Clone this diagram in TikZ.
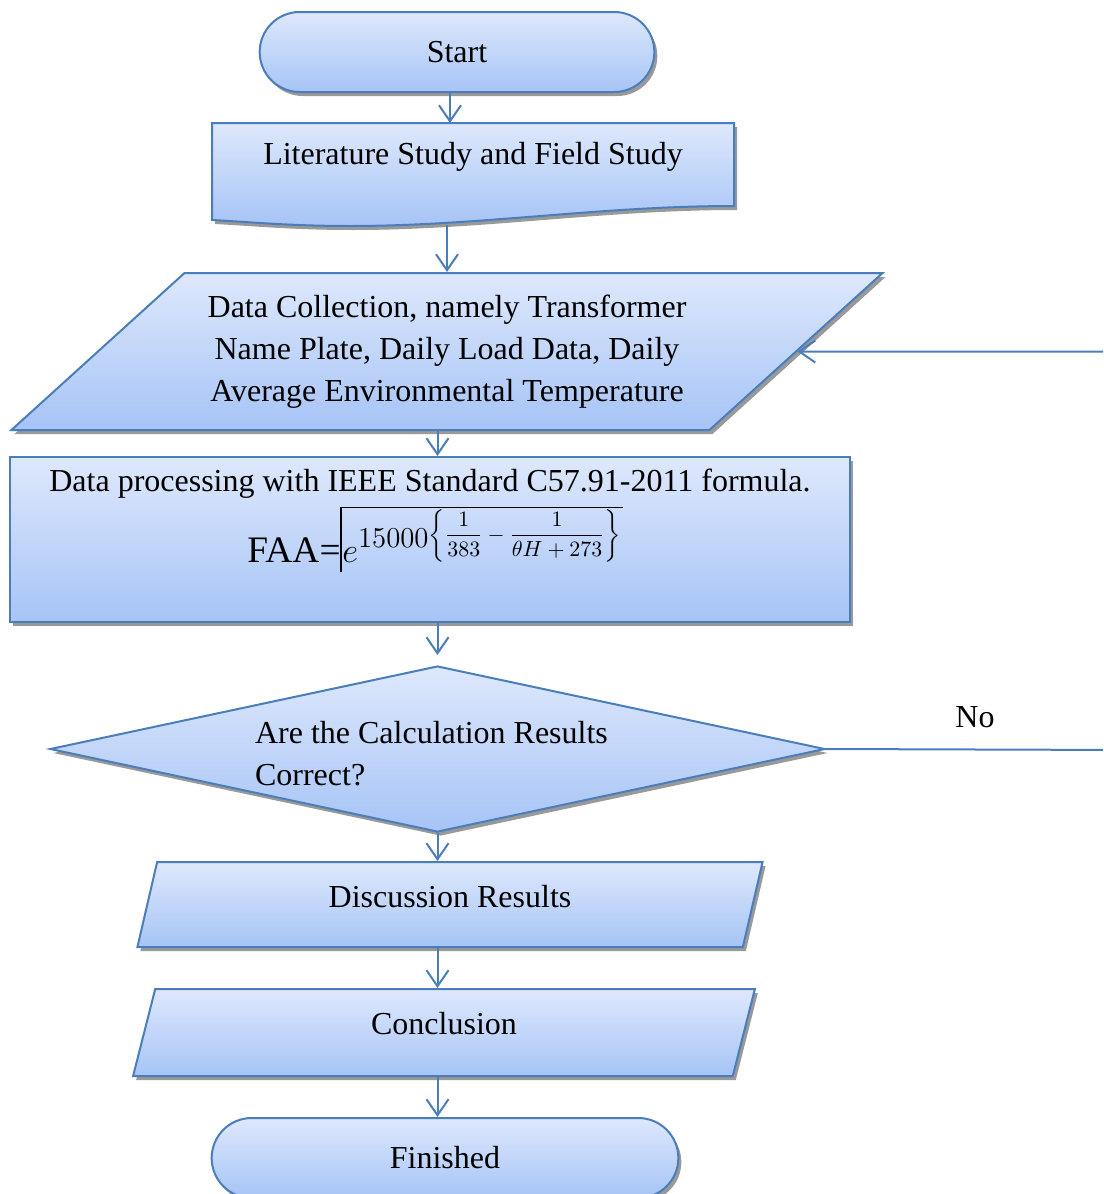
\documentclass[tikz,border=0pt]{standalone}
\usepackage{amsmath}
\usepackage{fontspec}
\setmainfont{Liberation Serif}
\usetikzlibrary{shapes.geometric, shapes.misc, shadows, arrows.meta, positioning, calc}

\definecolor{edgeblue}{RGB}{74,126,187}
\definecolor{filltop}{RGB}{222,232,252}
\definecolor{fillbot}{RGB}{166,196,246}

\tikzset{
  box/.style={draw=edgeblue, line width=1pt, top color=filltop, bottom color=fillbot,
    drop shadow={shadow xshift=1.5pt, shadow yshift=-2pt, fill=black!40, opacity=1}},
  terminal/.style={box, rounded rectangle, minimum width=#1, minimum height=40pt},
  iobox/.style={box, trapezium, trapezium stretches=true, align=center},
  flow/.style={draw=edgeblue, line width=1pt, -{Straight Barb[length=8pt, width=11pt]}}
}

\begin{document}
\begin{tikzpicture}[x=0.5pt, y=-0.5pt, font=\fontsize{16}{21}\selectfont]
  \useasboundingbox (0,0) rectangle (1103,1194);
  \clip (0,0) rectangle (1103,1194);

  % Start
  \node[terminal=204pt] (start) at (457,52) {Start};

  % Literature study (document shape)
  \path[box] (212,123) -- (734,123) -- (734,206)
    .. controls (600,206) and (480,226) .. (350,226)
    .. controls (290,226) and (250,222) .. (212,220) -- cycle;
  \node (lit) at (473,157) {Literature Study and Field Study};
  \coordinate (lit-t) at (450,123);
  \coordinate (lit-b) at (447,225);

  % Data collection
  \node[iobox, trapezium left angle=38, trapezium right angle=142,
    minimum width=437pt, minimum height=78.5pt] (data) at (447,351.5)
    {Data Collection, namely Transformer\\Name Plate, Daily Load Data, Daily\\Average Environmental Temperature};

  % Processing
  \node[box, rectangle, minimum width=420pt, minimum height=82.5pt] (proc) at (430,539.5) {};
  \node[inner sep=1pt] (proctxt) at (430,484) {Data processing with IEEE Standard C57.91-2011 formula.};
  \node[inner sep=0.5pt, text depth=4.5pt, anchor=base west, font=\fontsize{18.7}{22}\selectfont] (fexp) at (341,562)
    {$e$\raisebox{7.5pt}{\fontsize{14}{14}\selectfont$15000$}\raisebox{10.5pt}{\fontsize{10.5}{10.5}\selectfont$\left\{\dfrac{1}{383}-\dfrac{1}{\theta H+273}\right\}$}};
  \node[inner sep=0pt, anchor=base east, font=\fontsize{18.7}{22}\selectfont] (faa) at (fexp.base west) {FAA=};
  \draw[line width=0.6pt] (fexp.south west) |- (fexp.north east);

  % Decision
  \node[box, diamond, minimum width=387.5pt, minimum height=83pt, inner sep=0pt] (dia) at (437.5,749) {};
  \node[align=left, anchor=west] (ask) at (248,754) {Are the Calculation Results\\Correct?};
  \node (no) at (975,717) {No};
  \coordinate (ret) at (1130,750);

  % Results
  \node[iobox, trapezium left angle=80.5, trapezium right angle=99.5, text depth=8pt,
    minimum width=313pt, minimum height=42.5pt] (disc) at (450,904.5) {Discussion Results};
  \node[iobox, trapezium left angle=83.5, trapezium right angle=96.5, text depth=9pt,
    minimum width=313pt, minimum height=43.5pt] (conc) at (444,1032.5) {Conclusion};
  \node[terminal=240pt] (fin) at (445,1158) {Finished};

  % Connectors
  \draw[flow] (start.south -| lit-t) -- (lit-t);
  \draw[flow] (lit-b) -- (lit-b |- data.north);
  \draw[flow] (data.south -| dia.north) -- (proc.north -| dia.north);
  \draw[flow, shorten >=5pt] (proc.south -| dia.north) -- (dia.north);
  \draw[flow] (dia.south) -- (dia.south |- disc.north);
  \draw[flow] (disc.south -| dia.south) -- (conc.north -| dia.south);
  \draw[flow] (conc.south -| dia.south) -- (fin.north -| dia.south);
  \draw[flow] (dia.east) -- (ret) |- (data.east);
\end{tikzpicture}
\end{document}
